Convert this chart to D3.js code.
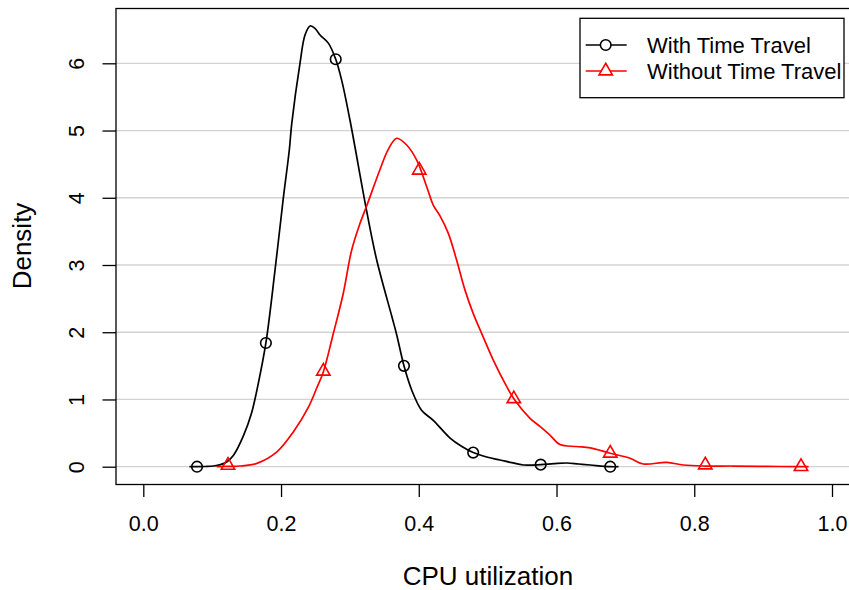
<!DOCTYPE html>
<html>
<head>
<meta charset="utf-8">
<script src="https://cdn.jsdelivr.net/npm/d3@7"></script>
<style>
  body { margin: 0; background: #fff; }
  svg { display: block; font-family: "Liberation Sans", Arial, Helvetica, sans-serif; }
</style>
</head>
<body>
<svg width="849" height="590"></svg>
<script>
// tick values
var xTicks = [0, 0.2, 0.4, 0.6, 0.8, 1.0];
var yTicks = [0, 1, 2, 3, 4, 5, 6];

// density curve "With Time Travel"
var withX = [0.067,0.078,0.090,0.102,0.112,0.121,0.131,0.145,0.157,0.167,0.178,0.191,0.203,0.212,0.2155,0.2275,0.2348,0.2421,0.2493,0.2566,0.2687,0.2794,0.288,0.300,0.324,0.339,0.361,0.368,0.3785,0.3897,0.404,0.421,0.445,0.4626,0.479,0.500,0.518,0.535,0.552,0.577,0.596,0.615,0.632,0.649,0.678,0.69];
var withY = [0,0,0.003,0.01,0.03,0.07,0.17,0.45,0.79,1.24,1.84,2.90,3.97,4.71,5.1,6.0,6.42,6.555,6.52,6.42,6.30,6.06,5.75,5.16,3.82,3.07,2.23,1.96,1.50,1.14,0.84,0.69,0.43,0.30,0.21,0.14,0.10,0.06,0.025,0.03,0.045,0.055,0.04,0.025,0.0,0.0];

// density curve "Without Time Travel"
var withoutX = [0.1066,0.123,0.14,0.165,0.194,0.218,0.240,0.2518,0.2614,0.2759,0.2904,0.3025,0.3147,0.324,0.3437,0.3557,0.368,0.3824,0.397,0.4115,0.421,0.4308,0.4429,0.455,0.467,0.479,0.4914,0.508,0.5277,0.538,0.5615,0.576,0.5905,0.605,0.629,0.649,0.678,0.7067,0.726,0.76,0.784,0.816,0.857,0.905,0.955,0.966];
var withoutY = [0,0.005,0.01,0.05,0.22,0.52,0.89,1.17,1.41,1.98,2.58,3.22,3.62,3.87,4.42,4.72,4.885,4.785,4.56,4.165,3.89,3.73,3.47,3.07,2.63,2.28,1.98,1.59,1.19,1.01,0.72,0.60,0.47,0.33,0.30,0.28,0.20,0.125,0.04,0.065,0.025,0.01,0.01,0.005,0.0,0.0];

// marker points
var withMarkX = [0.078,0.178,0.2794,0.3785,0.479,0.577,0.678];
var withMarkY = [0,1.84,6.06,1.50,0.21,0.03,0.0];
var withoutMarkX = [0.123,0.2614,0.4007,0.538,0.678,0.816,0.955];
var withoutMarkY = [0.02,1.42,4.41,1.01,0.20,0.025,0.0];

var seriesNames = ["With Time Travel", "Without Time Travel"];
var seriesColors = ["#000000", "#ff0000"];

var svg = d3.select("svg");

// plot box (right side runs off the page like the original)
var box = {left: 116, top: 8.5, right: 862, bottom: 484.5};

var x = d3.scaleLinear().domain([0, 1]).range([143.3, 832]);
var y = d3.scaleLinear().domain([0, 6]).range([466.7, 63.3]);

// horizontal grid
svg.append("g")
  .selectAll("line")
  .data(yTicks)
  .enter().append("line")
    .attr("x1", box.left).attr("x2", box.right)
    .attr("y1", function(d) { return y(d); })
    .attr("y2", function(d) { return y(d); })
    .attr("stroke", "#d3d3d3")
    .attr("stroke-width", 1.3);

// x axis
var xAxis = d3.axisBottom(x).tickValues(xTicks).tickFormat(d3.format(".1f")).tickSize(12.5).tickPadding(19);
var gx = svg.append("g").attr("transform", "translate(0," + box.bottom + ")").call(xAxis);
gx.select(".domain").remove();
gx.selectAll("line").attr("stroke", "#000").attr("stroke-width", 1.3);
gx.selectAll("text").attr("font-size", 21.5).attr("fill", "#000")
  .attr("font-family", "Liberation Sans, Arial, sans-serif");

// y axis
var yAxis = d3.axisLeft(y).tickValues(yTicks).tickFormat(d3.format("d")).tickSize(13.5);
var gy = svg.append("g").attr("transform", "translate(" + box.left + ",0)").call(yAxis);
gy.select(".domain").remove();
gy.selectAll("line").attr("stroke", "#000").attr("stroke-width", 1.3);
gy.selectAll("text")
  .attr("font-size", 21.5).attr("fill", "#000")
  .attr("font-family", "Liberation Sans, Arial, sans-serif")
  .attr("x", 0).attr("dy", null)
  .attr("text-anchor", "middle")
  .attr("transform", "translate(-32,0) rotate(-90)");

// box
svg.append("rect")
  .attr("x", box.left).attr("y", box.top)
  .attr("width", box.right - box.left).attr("height", box.bottom - box.top)
  .attr("fill", "none").attr("stroke", "#000").attr("stroke-width", 1.3);

// curves
var line = d3.line()
  .x(function(d) { return x(d[0]); })
  .y(function(d) { return y(d[1]); })
  .curve(d3.curveCatmullRom.alpha(0.5));

var curves = [d3.zip(withX, withY), d3.zip(withoutX, withoutY)];
svg.append("g").selectAll("path")
  .data(curves)
  .enter().append("path")
    .attr("d", line)
    .attr("fill", "none")
    .attr("stroke", function(d, i) { return seriesColors[i]; })
    .attr("stroke-width", 1.7);

// markers
var circ = d3.symbol().type(d3.symbolCircle).size(Math.PI * 5.3 * 5.3);
var tri = d3.symbol().type(d3.symbolTriangle).size(78);

svg.append("g").selectAll("path")
  .data(d3.zip(withMarkX, withMarkY))
  .enter().append("path")
    .attr("d", circ)
    .attr("transform", function(d) { return "translate(" + x(d[0]) + "," + y(d[1]) + ")"; })
    .attr("fill", "none").attr("stroke", seriesColors[0]).attr("stroke-width", 1.6);

svg.append("g").selectAll("path")
  .data(d3.zip(withoutMarkX, withoutMarkY))
  .enter().append("path")
    .attr("d", tri)
    .attr("transform", function(d) { return "translate(" + x(d[0]) + "," + y(d[1]) + ")"; })
    .attr("fill", "none").attr("stroke", seriesColors[1]).attr("stroke-width", 1.6);

// axis titles
svg.append("text")
  .attr("x", 488).attr("y", 585)
  .attr("text-anchor", "middle").attr("font-size", 26)
  .text("CPU utilization");

svg.append("text")
  .attr("transform", "translate(31,246) rotate(-90)")
  .attr("text-anchor", "middle").attr("font-size", 26)
  .text("Density");

// legend
var legend = svg.append("g");
legend.append("rect")
  .attr("x", 580).attr("y", 18.3).attr("width", 264).attr("height", 79.4)
  .attr("fill", "#fff").attr("stroke", "#000").attr("stroke-width", 1.3);

var rows = legend.selectAll("g.row")
  .data(seriesNames)
  .enter().append("g")
    .attr("class", "row")
    .attr("transform", function(d, i) { return "translate(0," + (45 + i * 26) + ")"; });

rows.append("line")
  .attr("x1", 585.7).attr("x2", 626.7)
  .attr("stroke", function(d, i) { return seriesColors[i]; })
  .attr("stroke-width", 1.7);

rows.append("path")
  .attr("d", function(d, i) { return i === 0 ? circ() : tri(); })
  .attr("transform", "translate(605.7,0)")
  .attr("fill", "#fff")
  .attr("stroke", function(d, i) { return seriesColors[i]; })
  .attr("stroke-width", 1.6);

rows.append("text")
  .attr("x", 647).attr("dy", "0.36em")
  .attr("font-size", 22)
  .text(function(d) { return d; });
</script>
</body>
</html>
